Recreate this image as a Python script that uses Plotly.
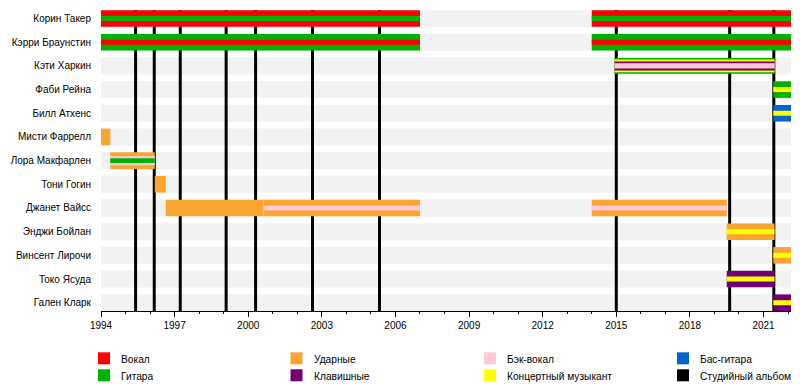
import plotly.graph_objects as go

# ---------------- data ----------------
members = ["Корин Такер", "Кэрри Браунстин", "Кэти Харкин", "Фаби Рейна", "Билл Атхенс",
           "Мисти Фаррелл", "Лора Макфарлен", "Тони Гогин", "Джанет Вайсс", "Энджи Бойлан",
           "Винсент Лирочи", "Токо Ясуда", "Гален Кларк"]

roles = ["Вокал", "Гитара", "Ударные", "Клавишные", "Бэк-вокал",
         "Концертный музыкант", "Бас-гитара", "Студийный альбом"]

timeline_start = 1994.0
timeline_end = 2022.12

# segments: member, start, end, roles layered from outer to inner
seg_member = ["Корин Такер", "Корин Такер",
              "Кэрри Браунстин", "Кэрри Браунстин",
              "Кэти Харкин",
              "Фаби Рейна",
              "Билл Атхенс",
              "Мисти Фаррелл",
              "Лора Макфарлен",
              "Тони Гогин",
              "Джанет Вайсс", "Джанет Вайсс", "Джанет Вайсс",
              "Энджи Бойлан",
              "Винсент Лирочи",
              "Токо Ясуда",
              "Гален Кларк"]
seg_start = [1994.0, 2014.0,
             1994.0, 2014.0,
             2014.93,
             2021.4,
             2021.4,
             1994.0,
             1994.38,
             1996.19,
             1996.64, 2000.62, 2014.0,
             2019.5,
             2021.4,
             2019.5,
             2021.4]
seg_end = [2007.0, 2022.12,
           2007.0, 2022.12,
           2021.45,
           2022.12,
           2022.12,
           1994.38,
           1996.19,
           1996.64,
           2000.62, 2007.0, 2019.5,
           2021.45,
           2022.12,
           2021.45,
           2022.12]
seg_roles = [["Вокал", "Гитара"], ["Вокал", "Гитара"],
             ["Гитара", "Вокал"], ["Гитара", "Вокал"],
             ["Гитара", "Концертный музыкант", "Клавишные", "Бэк-вокал"],
             ["Гитара", "Концертный музыкант"],
             ["Бас-гитара", "Концертный музыкант"],
             ["Ударные"],
             ["Ударные", "Бэк-вокал", "Гитара"],
             ["Ударные"],
             ["Ударные"], ["Ударные", "Бэк-вокал"], ["Ударные", "Бэк-вокал"],
             ["Ударные", "Концертный музыкант"],
             ["Ударные", "Концертный музыкант"],
             ["Клавишные", "Концертный музыкант"],
             ["Клавишные", "Концертный музыкант"]]

albums = [1995.41, 1996.17, 1997.23, 1999.1, 2000.3, 2002.62, 2005.35, 2015.0, 2019.62, 2021.42]

# ---------------- style ----------------
role_colors = {
    "Вокал": "#FF0000",
    "Гитара": "#00B200",
    "Ударные": "#F9A530",
    "Клавишные": "#730073",
    "Бэк-вокал": "#FFC8D2",
    "Концертный музыкант": "#FFFF00",
    "Бас-гитара": "#0066CC",
    "Студийный альбом": "#000000",
}
layer_widths = {1: [0.7], 2: [0.7, 0.21], 3: [0.7, 0.4, 0.2], 4: [0.66, 0.53, 0.38, 0.23]}
FONT = "Liberation Sans, Arial, sans-serif"

row_of = {m: i for i, m in enumerate(members)}
n = len(members)
y_top = -0.36
y_bot = (n - 1) + 0.35

fig = go.Figure()

# grey background bands behind every row
for i, m in enumerate(members):
    fig.add_shape(type="rect", xref="x", yref="y", layer="below",
                  x0=timeline_start, x1=timeline_end, y0=i - 0.36, y1=i + 0.36,
                  fillcolor="#F2F2F2", line_width=0)

# studio album lines (below the bars)
for a in albums:
    fig.add_shape(type="line", xref="x", yref="y", layer="below",
                  x0=a, x1=a, y0=y_top, y1=y_bot,
                  line=dict(color=role_colors["Студийный альбом"], width=3))

# layered bars
max_layers = max(len(r) for r in seg_roles)
for k in range(max_layers):
    ys, bases, lens, widths, cols = [], [], [], [], []
    for m, s, e, rl in zip(seg_member, seg_start, seg_end, seg_roles):
        if k < len(rl):
            ys.append(row_of[m])
            bases.append(s)
            lens.append(e - s)
            widths.append(layer_widths[len(rl)][k])
            cols.append(role_colors[rl[k]])
    fig.add_trace(go.Bar(orientation="h", y=ys, x=lens, base=bases, width=widths,
                         marker=dict(color=cols, line=dict(width=0)),
                         showlegend=False, hoverinfo="skip"))

# custom legend
L, T, PW, PH = 101, 10, 690, 301
def px2paper(px, py):
    return (px - L) / PW, (T + PH - py) / PH

legend_cols = [["Вокал", "Гитара"], ["Ударные", "Клавишные"],
               ["Бэк-вокал", "Концертный музыкант"], ["Бас-гитара", "Студийный альбом"]]
col_x = [98, 290.5, 484, 677]
row_y = [358.3, 375.3]
for ci, col in enumerate(legend_cols):
    for ri, role in enumerate(col):
        x0, y0 = px2paper(col_x[ci], row_y[ri] - 6)
        x1, y1 = px2paper(col_x[ci] + 12, row_y[ri] + 6)
        fig.add_shape(type="rect", xref="paper", yref="paper", x0=x0, x1=x1, y0=y1, y1=y0,
                      fillcolor=role_colors[role], line_width=0)
        tx, ty = px2paper(col_x[ci] + 21, row_y[ri] + 1)
        fig.add_annotation(x=tx, y=ty, xref="paper", yref="paper", text=role, showarrow=False,
                           xanchor="left", yanchor="middle",
                           font=dict(family=FONT, size=10.2, color="black"))

fig.update_layout(
    width=800, height=390,
    margin=dict(l=L, r=800 - L - PW, t=T, b=390 - T - PH, autoexpand=False),
    barmode="overlay",
    plot_bgcolor="white", paper_bgcolor="white",
    showlegend=False,
    font=dict(family=FONT, size=10, color="black"),
    xaxis=dict(range=[timeline_start, timeline_end], tick0=1994, dtick=3,
               ticks="outside", ticklen=5, tickcolor="black", tickwidth=1,
               showline=True, linecolor="black", linewidth=1,
               showgrid=False, zeroline=False, automargin=False,
               tickfont=dict(family=FONT, size=10, color="black"),
               minor=dict(dtick=1, tick0=1994, ticks="outside", ticklen=2,
                          tickcolor="black", showgrid=False)),
    yaxis=dict(range=[y_bot, y_top], tickvals=list(range(n)), ticktext=members,
               showgrid=False, zeroline=False, showline=False, ticks="",
               ticklabelstandoff=9, automargin=False,
               tickfont=dict(family=FONT, size=10, color="black")),
)

fig.write_html("out.html", config={"displayModeBar": False},
               post_script="document.body.style.margin='0';")
